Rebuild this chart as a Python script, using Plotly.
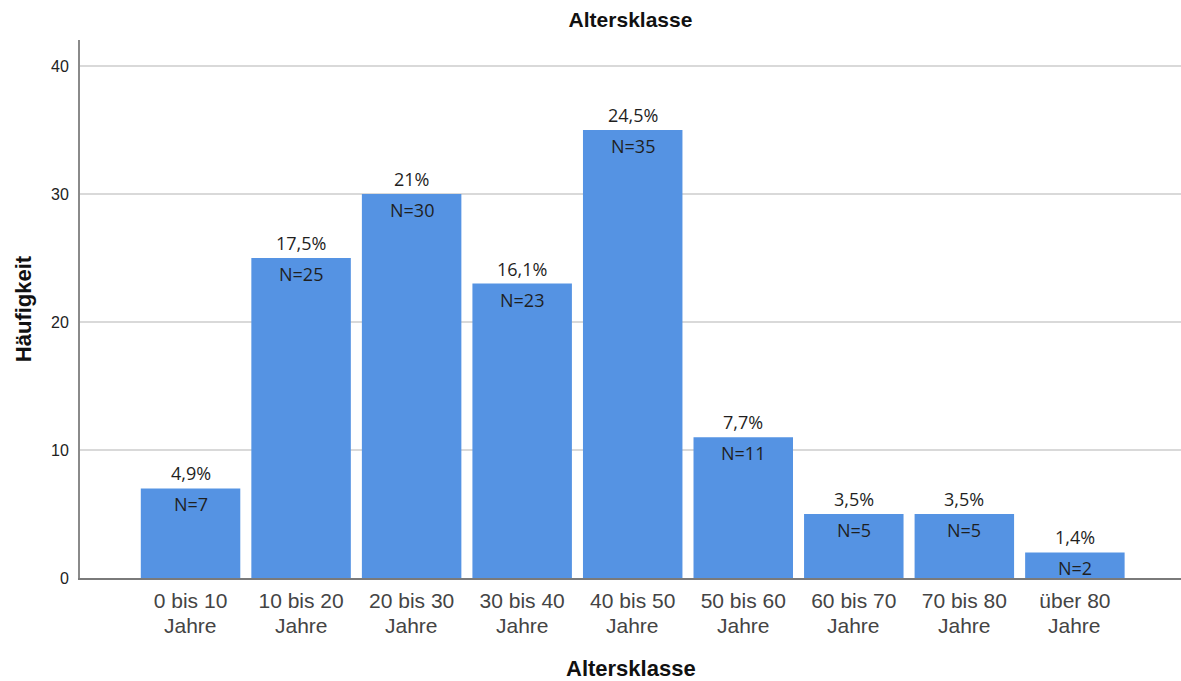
import plotly.graph_objects as go

# Age classes (two-line labels) and their frequencies
class_ranges = ["0 bis 10", "10 bis 20", "20 bis 30", "30 bis 40", "40 bis 50",
                "50 bis 60", "60 bis 70", "70 bis 80", "über 80"]
class_unit = "Jahre"
counts = [7, 25, 30, 23, 35, 11, 5, 5, 2]
percent_labels = ["4,9%", "17,5%", "21%", "16,1%", "24,5%", "7,7%", "3,5%", "3,5%", "1,4%"]
y_ticks = [0, 10, 20, 30, 40]

categories = [f"{r} {class_unit}" for r in class_ranges]

bar_color = "#5593E3"
axis_font = "Liberation Sans, Arial, sans-serif"
label_font = dict(family="Open Sans, Noto Sans, sans-serif", size=18, color="#1f1f1f")
tick_font = dict(family=axis_font, size=21, color="#444")

fig = go.Figure(go.Bar(
    x=categories, y=counts, marker=dict(color=bar_color, line=dict(width=0)),
    width=0.9, hoverinfo="skip",
))

annotations = []
for cat, n, pct in zip(categories, counts, percent_labels):
    # percentage above the bar, count just inside its top edge
    annotations.append(dict(x=cat, y=n, text=pct, showarrow=False, xref="x", yref="y",
                            yanchor="bottom", yshift=1, font=label_font))
    annotations.append(dict(x=cat, y=n, text=f"N={n}", showarrow=False, xref="x", yref="y",
                            yanchor="top", yshift=-2, font=label_font))
    # second line of the category label
    annotations.append(dict(x=cat, y=0, text=class_unit, showarrow=False, xref="x", yref="paper",
                            yanchor="middle", yshift=-47.5, font=tick_font))

# x-axis title
annotations.append(dict(x=0.5, y=0, xref="paper", yref="paper", text="<b>Altersklasse</b>",
                        showarrow=False, yanchor="middle", yshift=-90,
                        font=dict(family=axis_font, size=22, color="#111")))

fig.update_layout(
    width=1181, height=681,
    margin=dict(l=80, r=0, t=40, b=103),
    paper_bgcolor="white", plot_bgcolor="white",
    showlegend=False,
    title=dict(text="<b>Altersklasse</b>", x=0.5, xanchor="center", y=0.971, yanchor="middle",
               xref="paper", font=dict(family=axis_font, size=21, color="#111")),
    annotations=annotations,
    xaxis=dict(
        type="category", range=[-1.0, 8.96],
        tickvals=categories, ticktext=class_ranges,
        showline=True, linecolor="#7a7a7a", linewidth=2,
        showgrid=False, ticks="", ticklabelstandoff=3,
        tickfont=tick_font,
    ),
    yaxis=dict(
        range=[0, 42.03], tickvals=y_ticks,
        showline=True, linecolor="#8a8a8a", linewidth=2,
        showgrid=True, gridcolor="#d9d9d9", gridwidth=2, zeroline=False,
        ticks="", ticklabelstandoff=6,
        tickfont=dict(family=axis_font, size=16, color="#222"),
        title=dict(text="<b>Häufigkeit</b>", standoff=13,
                   font=dict(family=axis_font, size=22, color="#111")),
    ),
)

fig.write_html("out.html")
